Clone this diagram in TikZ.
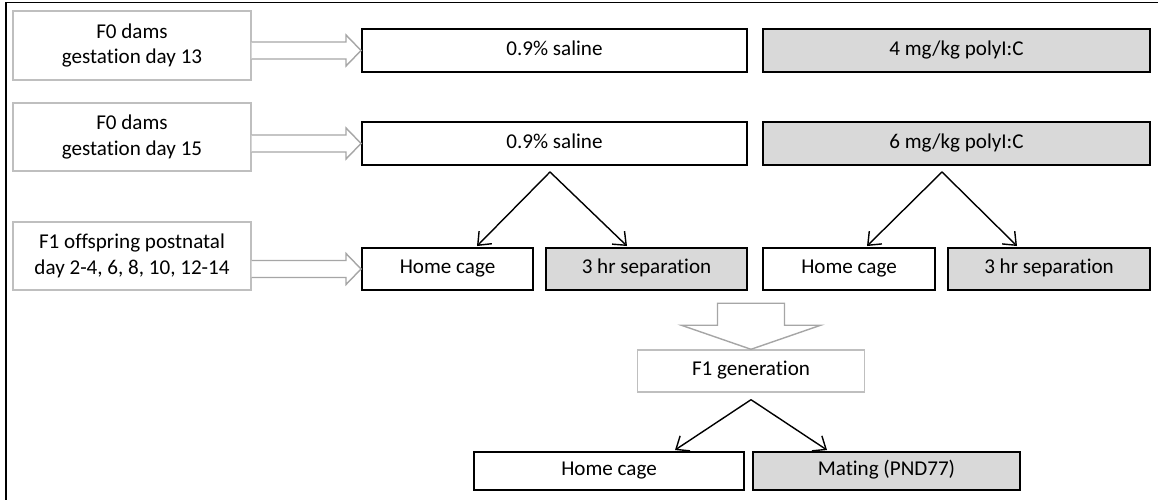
\documentclass[tikz,border=0pt]{standalone}
\usepackage{fontspec}
\setmainfont{Carlito}[Ligatures={NoCommon,NoRare,NoContextual}]
\usetikzlibrary{calc,arrows.meta}

\definecolor{boxgray}{HTML}{D9D9D9}
\definecolor{linegray}{HTML}{BFBFBF}
\definecolor{arrowgray}{HTML}{A6A6A6}

\newcommand{\hollowright}[2]{%
\draw [hollow] ($(#1.east |- #2.west)+(0,0.17)$) -- ($(#2.west)+(-0.3,0.17)$) -- ($(#2.west)+(-0.3,0.31)$) -- (#2.west) -- ($(#2.west)+(-0.3,-0.31)$) -- ($(#2.west)+(-0.3,-0.17)$) -- ($(#1.east |- #2.west)+(0,-0.17)$);}

\begin{document}
\begin{tikzpicture}[
  every node/.style={font=\fontsize{12}{14.5}\selectfont, inner sep=0pt, align=center},
  stagebox/.style={draw=linegray, line width=0.8pt, minimum width=4.76cm},
  oneline/.style={text height=0.72em, text depth=0.2em},
  whitebox/.style={draw=black, line width=1.1pt, fill=white, oneline},
  graybox/.style={draw=black, line width=1.1pt, fill=boxgray, oneline},
  hollow/.style={draw=arrowgray, line width=0.8pt, fill=white, line join=miter},
  split/.style={-{Straight Barb[length=2.2mm, width=3.6mm, line width=0.8pt]}, line width=0.8pt, black}
]
\useasboundingbox (0,0) rectangle (23.16,-10);
\draw [black, line width=1pt] (0.12,-10.2) -- (0.12,-0.05) -- (23.3,-0.05);

\node [stagebox, minimum height=1.38cm] (L1) at (2.64,-0.91) {F0 dams\\gestation day 13};
\node [stagebox, minimum height=1.36cm] (L2) at (2.64,-2.74) {F0 dams\\gestation day 15};
\node [stagebox, minimum height=1.36cm] (L3) at (2.64,-5.12) {F1 offspring postnatal\\day 2-4, 6, 8, 10, 12-14};

\node [whitebox, minimum width=7.7cm, minimum height=0.86cm] (S1) at (11.09,-1.01) {0.9\% saline};
\node [graybox, minimum width=7.74cm, minimum height=0.86cm] (P1) at (19.13,-1.01) {4 mg/kg polyI:C};
\node [whitebox, minimum width=7.7cm, minimum height=0.86cm] (S2) at (11.09,-2.87) {0.9\% saline};
\node [graybox, minimum width=7.74cm, minimum height=0.86cm] (P2) at (19.13,-2.87) {6 mg/kg polyI:C};

\node [whitebox, minimum width=3.42cm, minimum height=0.84cm] (H1) at (8.95,-5.38) {Home cage};
\node [graybox, minimum width=4.02cm, minimum height=0.84cm] (R1) at (12.93,-5.38) {3 hr separation};
\node [whitebox, minimum width=3.44cm, minimum height=0.84cm] (H2) at (16.98,-5.38) {Home cage};
\node [graybox, minimum width=4.04cm, minimum height=0.84cm] (R2) at (20.98,-5.38) {3 hr separation};

\node [stagebox, oneline, minimum width=4.54cm, minimum height=0.84cm] (G) at (15.02,-7.42) {F1 generation};

\node [whitebox, minimum width=5.4cm, minimum height=0.76cm] (H3) at (12.18,-9.42) {Home cage};
\node [graybox, minimum width=5.34cm, minimum height=0.76cm] (M) at (17.73,-9.42) {Mating (PND77)};

\hollowright{L1}{S1}
\hollowright{L2}{S2}
\hollowright{L3}{H1}

\draw [hollow] ($(G.north)+(-0.67,0.92)$) -- ($(G.north)+(0.67,0.92)$) -- ($(G.north)+(0.67,0.48)$) -- ($(G.north)+(1.39,0.48)$) -- (G.north) -- ($(G.north)+(-1.39,0.48)$) -- ($(G.north)+(-0.67,0.48)$) -- cycle;

\draw [split] ($(S2.south)+(-0.09,-0.12)$) -- ($(H1.north)+(0.59,0.02)$);
\draw [split] ($(S2.south)+(-0.09,-0.12)$) -- ($(R1.north)+(-0.39,0.02)$);
\draw [split] ($(P2.south)+(-0.29,-0.12)$) -- ($(H2.north)+(0.36,0.02)$);
\draw [split] ($(P2.south)+(-0.29,-0.12)$) -- ($(R2.north)+(-0.64,0.02)$);
\draw [split] ($(G.south)+(0,-0.14)$) -- ($(H3.north)+(1.32,0.02)$);
\draw [split] ($(G.south)+(0,-0.14)$) -- ($(M.north)+(-1.19,0.02)$);
\end{tikzpicture}
\end{document}
